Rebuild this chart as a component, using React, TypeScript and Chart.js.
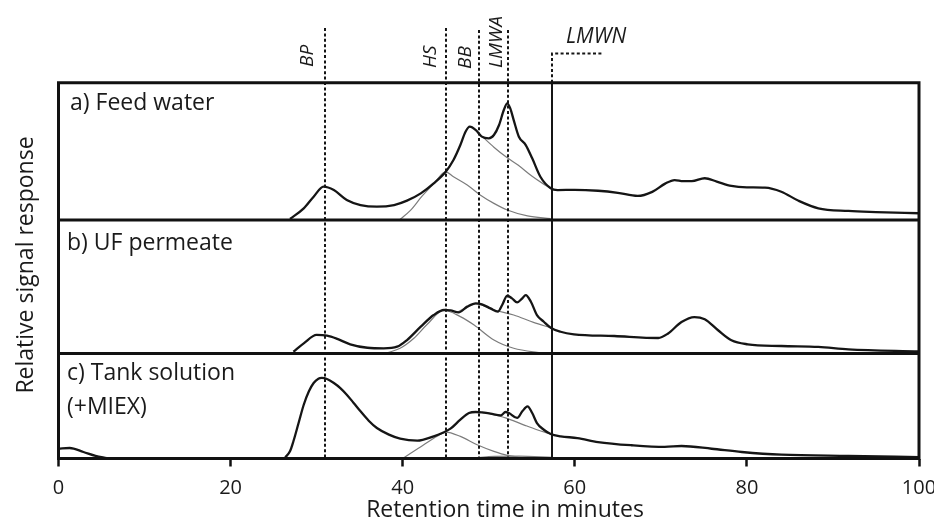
import React, { useEffect, useRef } from 'react';
import { Chart, registerables } from 'chart.js';

Chart.register(...registerables);

// ---------- DATA (x = retention time in minutes, y = % of panel height) ----------
const feedMain: [number, number][] = [
  [26.9, 0.8], [28.5, 8.5], [29.65, 17], [30.8, 24.3], [32.0, 21.8], [33.5, 14.6], [35.1, 10.9],
  [37.0, 9.7], [39.0, 10.9], [40.5, 14.1], [42.1, 19.4], [43.6, 26.7], [45.0, 35.2], [45.9, 43.7],
  [46.7, 54.6], [47.3, 64.3], [47.8, 68], [48.5, 65.5], [49.2, 60.7], [50.0, 59.5], [50.6, 61.9],
  [51.2, 69.2], [51.75, 80.1], [52.15, 85], [52.5, 81.3], [52.9, 72.8], [53.5, 60.7], [54.3, 54.6],
  [55.05, 44.9], [56.0, 31.5], [57.2, 23.1], [58.0, 21.8], [60.0, 22.0], [62.7, 21.3], [65.0, 19.8],
  [67.3, 17.5], [69.0, 20.5], [70.5, 26.5], [71.6, 29.1], [72.6, 28.3], [73.6, 28.3], [75.1, 30.4],
  [76.5, 28.0], [78.2, 24.8], [80.0, 23.8], [82.1, 23.6], [84.0, 20.6], [86.0, 14.0], [88.3, 8.5],
  [91.8, 6.6], [95.0, 5.8], [100, 4.9],
];
const feedHS: [number, number][] = [
  [39.7, 0.5], [40.9, 7], [42.2, 17], [43.6, 26.3], [45.0, 35], [45.9, 31.5], [47.5, 25.5],
  [49.0, 18.2], [50.6, 12.1], [52.15, 7.3], [54.5, 3], [57.2, 1],
];
const feedBB: [number, number][] = [
  [49.3, 60.5], [50.6, 53], [52.0, 46], [53.4, 40], [55.0, 32], [56.3, 26.5], [57.3, 23],
];

const permMain: [number, number][] = [
  [27.3, 1.3], [28.5, 7.6], [30.0, 13.9], [31.2, 13.3], [32.4, 10.9], [33.9, 6.9], [35.9, 4.3],
  [37.8, 3.9], [39.35, 5.1], [40.5, 10.1], [42.1, 20.1], [43.6, 28.8], [44.8, 32.6], [45.55, 32.3],
  [46.5, 30.8], [47.5, 35.1], [48.5, 37.6], [49.2, 36.8], [50.2, 33.8], [51.06, 31.3], [51.56, 36.3],
  [52.15, 43.3], [52.7, 41.3], [53.3, 38.3], [53.9, 41.3], [54.3, 43.8], [54.9, 38.8], [55.6, 28.8],
  [56.4, 23.8], [57.2, 19.3], [58.35, 16.3], [59.9, 14.4], [64.6, 13.1], [69.7, 11.6], [70.8, 14.8],
  [72.4, 23.6], [73.9, 27.3], [75.1, 25.6], [76.65, 17.4], [78.2, 9.9], [80.1, 6.9], [84.0, 5.6],
  [88.3, 4.9], [91.8, 3.1], [100, 1.6],
];
const permHS: [number, number][] = [
  [38.2, 0.5], [39.7, 3.9], [41.3, 11.4], [42.8, 21.5], [44.8, 32.4], [46.7, 27.6], [48.3, 21.3],
  [50.6, 10.1], [52.9, 3.9], [55.6, 0.9], [57.2, 0],
];
const permBB: [number, number][] = [
  [46.4, 31.0], [47.5, 34.8], [48.5, 37.4], [50.6, 32.6], [52.9, 28.8], [55.2, 23.3], [57.2, 19.3],
];

const tankEarly: [number, number][] = [
  [0, 9.3], [1.3, 10], [2.9, 6.2], [4.3, 2.5], [5.6, 0.3],
];
const tankMain: [number, number][] = [
  [26.35, 1.1], [26.9, 6.8], [27.3, 16.4], [27.9, 33.8], [28.5, 51.2], [29.1, 64], [29.65, 71.9],
  [30.2, 76], [30.6, 76.7], [31.2, 75.7], [32.0, 71.9], [32.75, 67.1], [33.5, 60.8], [34.3, 52.9],
  [35.1, 44.9], [36.05, 36], [37.0, 29], [38.4, 22.7], [39.7, 18.9], [41.7, 17], [43.6, 21.1],
  [44.6, 24.3], [45.55, 28.4], [46.7, 37], [47.7, 43.3], [48.5, 44.3], [49.2, 44], [50.2, 42.7],
  [51.4, 41.1], [51.95, 44.3], [52.35, 43.3], [53.3, 38.6], [53.9, 44.9], [54.5, 49.7], [55.05, 43.3],
  [55.6, 33.8], [56.4, 27.4], [57.2, 23.3], [58.35, 21.1], [60.3, 19.5], [62.7, 15.7], [66.6, 12.6],
  [70.45, 11], [72.4, 11.9], [75.9, 9.3], [79.4, 6.2], [84.0, 3.6], [91.8, 2.4], [100, 1.4],
];
const tankHS: [number, number][] = [
  [40.1, 0.5], [42.45, 13.1], [44.0, 21.1], [45.0, 25.2], [46.7, 21.1], [48.65, 13.1], [50.6, 6.8],
  [52.15, 3], [54.1, 0.8],
];
const tankBB: [number, number][] = [
  [49.2, 44], [51.0, 41], [52.5, 37], [54.2, 31.6], [55.6, 27.4], [57.2, 23.3],
];
const tankLow: [number, number][] = [
  [48.0, 0], [50.0, 1.8], [53.5, 2.2], [57.3, 1.2],
];

const MARKER_X = [31.0, 45.0, 48.9, 52.2];
const MARKER_LABELS = ['BP', 'HS', 'BB', 'LMWA'];
const LMWN_X = 57.3;
const LMWN_END = 63.1;
const LMWN_LABEL = 'LMWN';
const X_TICKS = [0, 20, 40, 60, 80, 100];
const PANEL_LABELS = ['a) Feed water', 'b) UF permeate', 'c) Tank solution', '(+MIEX)'];
const X_TITLE = 'Retention time in minutes';
const Y_TITLE = 'Relative signal response';

// ---------- LAYOUT ----------
const W = 934;
const H = 524;
const AREA = { left: 58.5, right: 919, top: 82.7, bottom: 458.5 };
const PANEL_H = [137.3, 133.5, 105]; // a, b, c heights in px
const TOTAL_H = PANEL_H[0] + PANEL_H[1] + PANEL_H[2];
const FONT = "'Open Sans', 'Noto Sans', sans-serif";
const INK = '#151515';
const GREY = '#7c7c7c';
const TEXT = '#1a1a1a';

const axisRange = (idx: number) => {
  // each panel maps 0..100 onto its own strip of the shared chart area
  const below = PANEL_H.slice(idx + 1).reduce((s, v) => s + v, 0);
  const unit = 100 / PANEL_H[idx];
  const min = -below * unit;
  return { min, max: min + TOTAL_H * unit };
};

const ds = (pts: [number, number][], axis: string, main: boolean) => ({
  data: pts.map(([x, y]) => ({ x, y })),
  yAxisID: axis,
  borderColor: main ? INK : GREY,
  borderWidth: main ? 2.3 : 1.2,
  pointRadius: 0,
  pointHoverRadius: 0,
  cubicInterpolationMode: 'monotone' as const,
  fill: false,
  order: main ? 0 : 1,
});

const decor = {
  id: 'decor',
  afterDraw(chart: any) {
    const { ctx, scales } = chart;
    const xs = scales.x;
    const yTop = scales.ya.getPixelForValue(100);
    const yAB = scales.ya.getPixelForValue(0);
    const yBC = scales.yb.getPixelForValue(0);
    const yBot = scales.yc.getPixelForValue(0);
    const xl = xs.getPixelForValue(0);
    const xr = xs.getPixelForValue(100);
    ctx.save();

    // dashed marker lines
    ctx.strokeStyle = INK;
    ctx.lineWidth = 2;
    ctx.setLineDash([3, 2.4]);
    const tops = [28, 28, 30, 30];
    MARKER_X.forEach((v, i) => {
      const px = Math.round(xs.getPixelForValue(v));
      ctx.beginPath();
      ctx.moveTo(px, tops[i]);
      ctx.lineTo(px, yBot);
      ctx.stroke();
    });
    // LMWN bracket
    const lx = Math.round(xs.getPixelForValue(LMWN_X));
    const lEnd = xs.getPixelForValue(LMWN_END);
    ctx.beginPath();
    ctx.moveTo(lx, yTop);
    ctx.lineTo(lx, 53.5);
    ctx.lineTo(lEnd, 53.5);
    ctx.stroke();
    ctx.setLineDash([]);
    ctx.lineWidth = 2;
    ctx.beginPath();
    ctx.moveTo(lx, yTop);
    ctx.lineTo(lx, yBot);
    ctx.stroke();

    // panel frame
    ctx.lineWidth = 3;
    ctx.strokeStyle = '#111';
    ctx.beginPath();
    ctx.rect(xl, yTop, xr - xl, yBot - yTop);
    ctx.moveTo(xl, yAB);
    ctx.lineTo(xr, yAB);
    ctx.moveTo(xl, yBC);
    ctx.lineTo(xr, yBC);
    ctx.stroke();

    // texts
    ctx.fillStyle = TEXT;
    ctx.textBaseline = 'alphabetic';
    ctx.textAlign = 'left';
    ctx.font = `23px ${FONT}`;
    ctx.fillText(PANEL_LABELS[0], 70, 110);
    ctx.fillText(PANEL_LABELS[1], 67, 250);
    ctx.fillText(PANEL_LABELS[2], 67, 380);
    ctx.fillText(PANEL_LABELS[3], 67, 414);

    // marker labels (rotated, italic)
    ctx.font = `italic 19px ${FONT}`;
    const baseX = [313, 436, 471, 502];
    const baseY = [67, 68, 69, 68];
    MARKER_LABELS.forEach((t, i) => {
      ctx.save();
      ctx.translate(baseX[i], baseY[i]);
      ctx.rotate(-Math.PI / 2);
      ctx.fillText(t, 0, 0);
      ctx.restore();
    });
    ctx.font = `italic 21px ${FONT}`;
    ctx.fillText(LMWN_LABEL, 566, 43);

    // axis titles
    ctx.font = `23px ${FONT}`;
    ctx.textAlign = 'center';
    ctx.fillText(X_TITLE, 505, 517);
    ctx.save();
    ctx.translate(33, 265);
    ctx.rotate(-Math.PI / 2);
    ctx.fillText(Y_TITLE, 0, 0);
    ctx.restore();

    ctx.restore();
  },
};

export default function App() {
  const ref = useRef<HTMLCanvasElement | null>(null);

  useEffect(() => {
    if (!ref.current) return;
    const ra = axisRange(0);
    const rb = axisRange(1);
    const rc = axisRange(2);
    const hiddenY = (r: { min: number; max: number }) => ({
      type: 'linear' as const,
      display: false,
      min: r.min,
      max: r.max,
    });
    const chart = new Chart(ref.current, {
      type: 'line',
      data: {
        datasets: [
          ds(feedMain, 'ya', true),
          ds(feedHS, 'ya', false),
          ds(feedBB, 'ya', false),
          ds(permMain, 'yb', true),
          ds(permHS, 'yb', false),
          ds(permBB, 'yb', false),
          ds(tankEarly, 'yc', true),
          ds(tankMain, 'yc', true),
          ds(tankHS, 'yc', false),
          ds(tankBB, 'yc', false),
          ds(tankLow, 'yc', false),
        ] as any,
      },
      options: {
        animation: false,
        responsive: false,
        devicePixelRatio: 1,
        events: [],
        layout: {
          padding: { left: AREA.left, right: W - AREA.right, top: AREA.top, bottom: 0 },
        },
        plugins: { legend: { display: false }, tooltip: { enabled: false } },
        scales: {
          x: {
            type: 'linear',
            min: 0,
            max: 100,
            afterBuildTicks: (s: any) => {
              s.ticks = X_TICKS.map((v) => ({ value: v }));
            },
            afterFit: (s: any) => {
              s.height = H - AREA.bottom;
              s.paddingLeft = 0;
              s.paddingRight = 0;
            },
            ticks: {
              color: TEXT,
              font: { family: FONT, size: 20 },
              padding: 10,
              maxRotation: 0,
              autoSkip: false,
            },
            grid: {
              display: true,
              drawOnChartArea: false,
              drawTicks: true,
              tickLength: 8,
              tickWidth: 2.5,
              tickColor: '#111',
              color: '#111',
            },
            border: { display: false },
          },
          ya: hiddenY(ra),
          yb: hiddenY(rb),
          yc: hiddenY(rc),
        },
      },
      plugins: [decor],
    });
    return () => chart.destroy();
  }, []);

  return (
    <div style={{ position: 'absolute', left: 0, top: 0, width: W, height: H, background: '#fff' }}>
      <canvas ref={ref} width={W} height={H} style={{ display: 'block', width: W, height: H }} />
    </div>
  );
}
